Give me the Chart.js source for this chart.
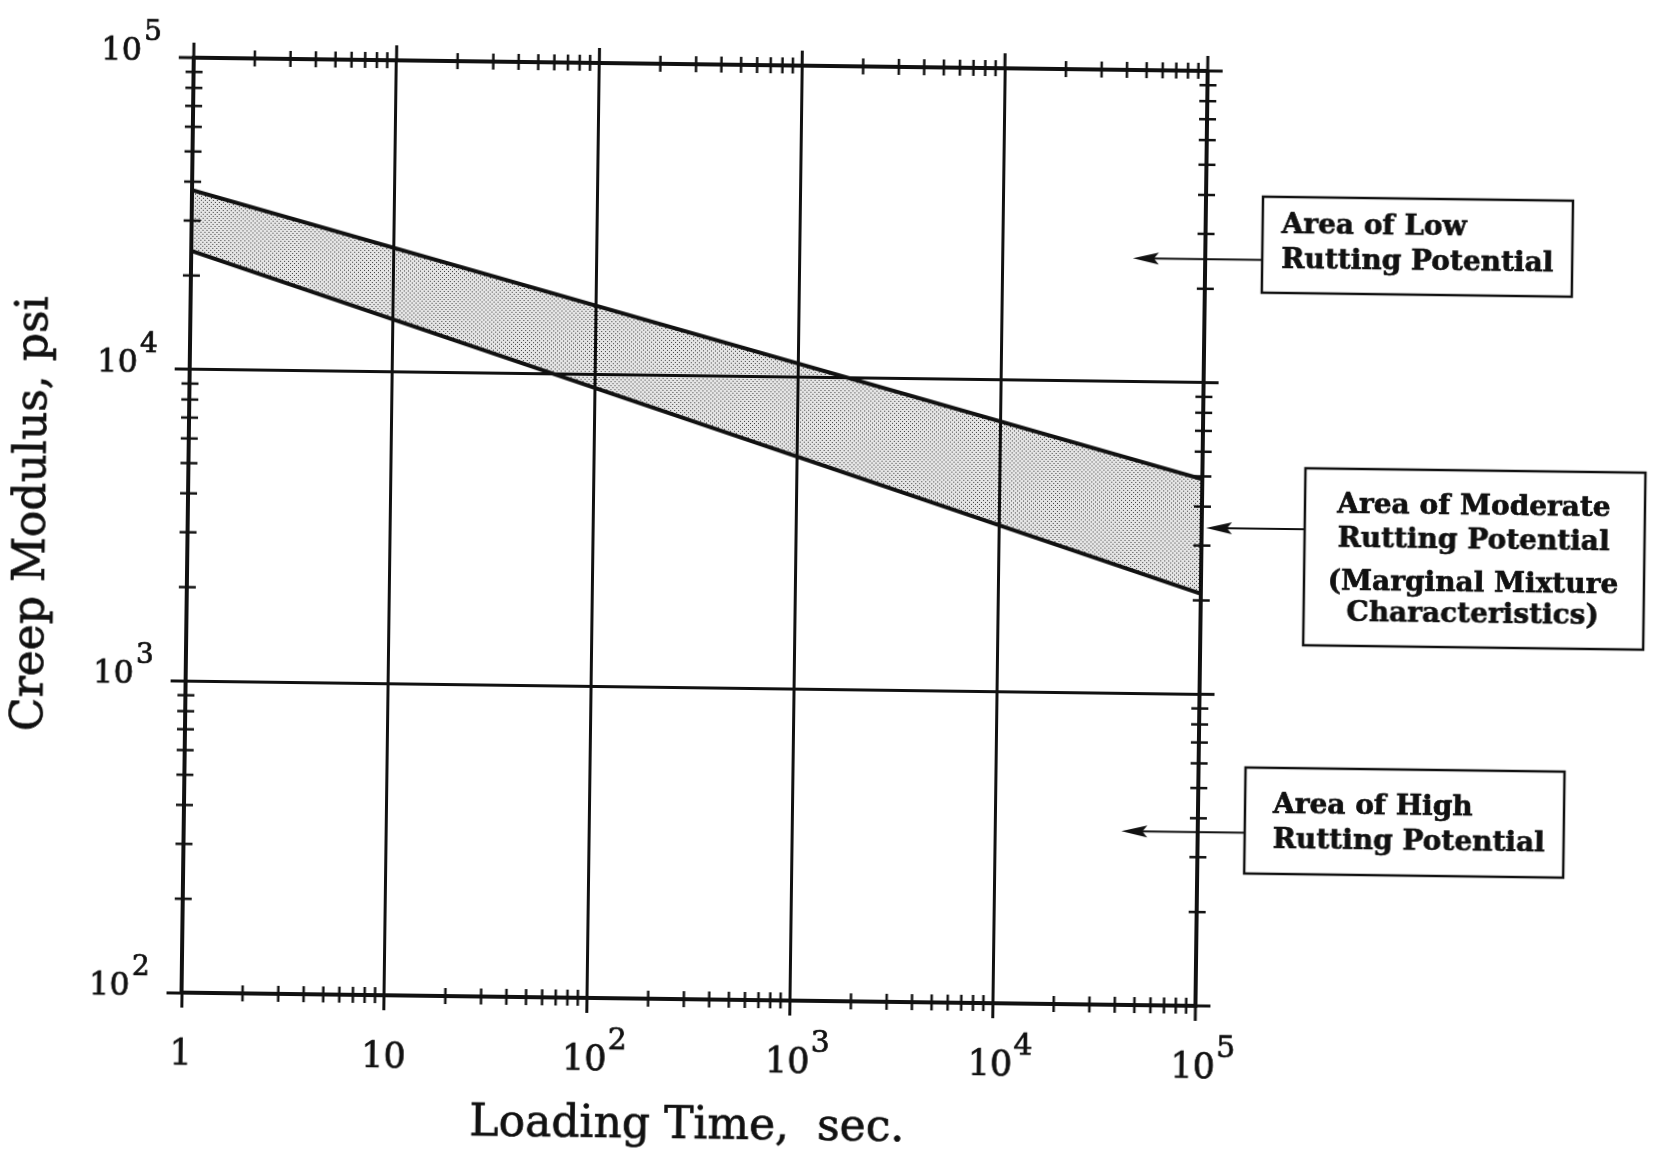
<!DOCTYPE html>
<html>
<head>
<meta charset="utf-8">
<title>Creep Modulus vs Loading Time</title>
<script src="https://cdn.jsdelivr.net/npm/chart.js@4.4.1/dist/chart.umd.min.js"></script>
<style>
    html, body { margin: 0; padding: 0; background: #fff; overflow: hidden; }
    #wrap { width: 1653px; height: 1157px; }
    /* the scanned plate sits slightly skewed on the page */
    #creepChart { display: block; transform: rotate(0.75deg); }
</style>
</head>
<body>
<div id="wrap"><canvas id="creepChart" width="1653" height="1157"></canvas></div>
<script>
// limits of the marginal band (sec vs psi, log-log)
const loadingTimes = [1, 100000];
const upperModulus = [37600, 4900];
const lowerModulus = [24000, 2100];

// decades and tick labels
const xDecades = [1, 10, 100, 1000, 10000, 100000];
const xTickBase = ['1', '10', '10', '10', '10', '10'];
const xTickExp = ['', '', '2', '3', '4', '5'];
const yDecades = [100, 1000, 10000, 100000];
const yTickBase = ['10', '10', '10', '10'];
const yTickExp = ['2', '3', '4', '5'];
const minorSteps = [2, 3, 4, 5, 6, 7, 8, 9];

// call-out notes and where their arrows point
const noteLines = [
    ['Area of Low', 'Rutting Potential'],
    ['Area of Moderate', 'Rutting Potential', '(Marginal Mixture', 'Characteristics)'],
    ['Area of High', 'Rutting Potential']
];
const noteModulus = [24900, 3420, 361];
const noteTipTime = [44000, 105000, 42000];

const SERIF = '"DejaVu Serif", serif';
const INK = '#111';

const canvas = document.getElementById('creepChart');

// stipple for the band
function makeStipple() {
    const tile = document.createElement('canvas');
    tile.width = 4;
    tile.height = 4;
    const t = tile.getContext('2d');
    t.fillStyle = 'rgba(0,0,0,0.1)';
    t.fillRect(0, 0, 4, 4);
    t.fillStyle = 'rgba(0,0,0,0.75)';
    t.fillRect(0, 0, 1, 1);
    t.fillRect(2, 2, 1, 1);
    return canvas.getContext('2d').createPattern(tile, 'repeat');
}

function seg(ctx, x1, y1, x2, y2) {
    ctx.beginPath();
    ctx.moveTo(x1, y1);
    ctx.lineTo(x2, y2);
    ctx.stroke();
}

// scanned print is heavier than a plain fill
function inkText(ctx, txt, x, y) {
    ctx.fillText(txt, x, y);
    ctx.lineWidth = 0.7;
    ctx.strokeText(txt, x, y);
}

function arrowLeft(ctx, fromX, tipX, y) {
    ctx.lineWidth = 2;
    seg(ctx, fromX, y, tipX + 20, y);
    ctx.beginPath();
    ctx.moveTo(tipX, y);
    ctx.lineTo(tipX + 26, y - 6);
    ctx.lineTo(tipX + 21, y);
    ctx.lineTo(tipX + 26, y + 6);
    ctx.closePath();
    ctx.fill();
}

// frame ticks, labels, titles and notes
const plateDecor = {
    id: 'plateDecor',
    afterDraw(chart) {
        const ctx = chart.ctx;
        const a = chart.chartArea;
        const xs = chart.scales.x;
        const ys = chart.scales.y;
        ctx.save();
        ctx.strokeStyle = INK;
        ctx.fillStyle = INK;

        // major lines poke out past the top and right edges too
        ctx.lineWidth = 3;
        xDecades.forEach(v => {
            const px = xs.getPixelForValue(v);
            seg(ctx, px, a.top - 15, px, a.top);
        });
        yDecades.forEach(v => {
            const py = ys.getPixelForValue(v);
            seg(ctx, a.right, py, a.right + 15, py);
        });

        // minor ticks cross all four edges
        ctx.lineWidth = 2.5;
        for (let i = 0; i < xDecades.length - 1; i++) {
            minorSteps.forEach(m => {
                const px = xs.getPixelForValue(xDecades[i] * m);
                seg(ctx, px, a.bottom - 8, px, a.bottom + 8);
                seg(ctx, px, a.top - 8, px, a.top + 8);
            });
        }
        for (let i = 0; i < yDecades.length - 1; i++) {
            minorSteps.forEach(m => {
                const py = ys.getPixelForValue(yDecades[i] * m);
                seg(ctx, a.left - 8, py, a.left + 9, py);
                seg(ctx, a.right - 8, py, a.right + 9, py);
            });
        }

        // x tick labels
        ctx.textAlign = 'left';
        ctx.textBaseline = 'alphabetic';
        xDecades.forEach((v, i) => {
            const px = xs.getPixelForValue(v);
            ctx.font = '35px ' + SERIF;
            const w = ctx.measureText(xTickBase[i]).width;
            const bx = xTickExp[i] ? px - 2 - w / 2 : px - w / 2;
            const base = a.bottom + 72;
            inkText(ctx, xTickBase[i], bx, base);
            if (xTickExp[i]) {
                ctx.font = '30px ' + SERIF;
                inkText(ctx, xTickExp[i], bx + w + 1, base - 21);
            }
        });

        // y tick labels
        yDecades.forEach((v, i) => {
            const py = ys.getPixelForValue(v);
            ctx.font = '32px ' + SERIF;
            const w = ctx.measureText(yTickBase[i]).width;
            const right = a.left - 52;
            inkText(ctx, yTickBase[i], right - w, py + 3);
            ctx.font = '28px ' + SERIF;
            inkText(ctx, yTickExp[i], right + 2, py + 3 - 20);
        });

        // axis titles
        ctx.font = '44px ' + SERIF;
        ctx.textAlign = 'center';
        inkText(ctx, 'Loading Time,  sec.', (a.left + a.right) / 2, a.bottom + 139);
        ctx.save();
        ctx.translate(44, 524);
        ctx.rotate(-Math.PI / 2);
        inkText(ctx, 'Creep Modulus, psi', 0, 0);
        ctx.restore();

        // note boxes
        const boxes = [
            { left: 1258, top: 191, right: 1568, bottom: 287, tx: 1277, align: 'left', lines: [227, 262] },
            { left: 1304, top: 462, right: 1644, bottom: 639, tx: 1473, align: 'center', lines: [506, 540, 583, 614] },
            { left: 1248, top: 762, right: 1567, bottom: 868, tx: 1276, align: 'left', lines: [807, 842] }
        ];
        boxes.forEach((b, i) => {
            ctx.lineWidth = 2.5;
            ctx.strokeRect(b.left, b.top, b.right - b.left, b.bottom - b.top);
            ctx.font = 'bold 28px ' + SERIF;
            ctx.textAlign = b.align;
            noteLines[i].forEach((txt, k) => inkText(ctx, txt, b.tx, b.lines[k]));
            const py = ys.getPixelForValue(noteModulus[i]);
            arrowLeft(ctx, b.left, xs.getPixelForValue(noteTipTime[i]), py);
        });

        ctx.restore();
    }
};

new Chart(canvas, {
    type: 'line',
    data: {
        datasets: [
            {
                label: 'Lower limit',
                data: loadingTimes.map((t, i) => ({ x: t, y: lowerModulus[i] })),
                borderColor: INK,
                borderWidth: 4,
                pointRadius: 0,
                fill: false
            },
            {
                label: 'Upper limit',
                data: loadingTimes.map((t, i) => ({ x: t, y: upperModulus[i] })),
                borderColor: INK,
                borderWidth: 4,
                pointRadius: 0,
                fill: '-1',
                backgroundColor: makeStipple()
            }
        ]
    },
    options: {
        responsive: false,
        animation: false,
        devicePixelRatio: 1,
        layout: { padding: { left: 172, top: 66, right: 452, bottom: 141 } },
        plugins: {
            legend: { display: false },
            tooltip: { enabled: false }
        },
        scales: {
            x: {
                type: 'logarithmic',
                min: 1,
                max: 100000,
                afterBuildTicks: axis => { axis.ticks = xDecades.map(v => ({ value: v })); },
                ticks: { display: false },
                grid: {
                    color: INK,
                    lineWidth: c => (c.tick && c.tick.value === 100000 ? 4 : 3),
                    drawTicks: true,
                    tickLength: 15,
                    tickColor: INK,
                    tickWidth: 3
                },
                border: { display: true, color: INK, width: 4 }
            },
            y: {
                type: 'logarithmic',
                min: 100,
                max: 100000,
                afterBuildTicks: axis => { axis.ticks = yDecades.map(v => ({ value: v })); },
                ticks: { display: false },
                grid: {
                    color: INK,
                    lineWidth: c => (c.tick && c.tick.value === 100000 ? 4 : 3),
                    drawTicks: true,
                    tickLength: 15,
                    tickColor: INK,
                    tickWidth: 3
                },
                border: { display: true, color: INK, width: 4 }
            }
        }
    },
    plugins: [plateDecor]
});
</script>
</body>
</html>
